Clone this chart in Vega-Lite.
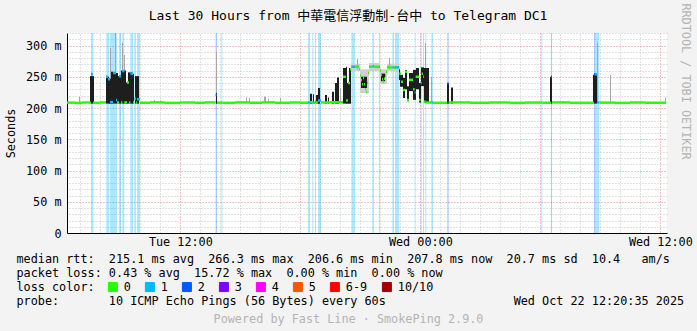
{
  "$schema": "https://vega.github.io/schema/vega-lite/v6.json",
  "width": 600,
  "height": 200,
  "autosize": "none",
  "padding": {"left": 67, "top": 33, "right": 30, "bottom": 98},
  "background": "#f3f3f3",
  "title": {
    "text": "Last 30 Hours from 中華電信浮動制-台中 to Telegram DC1",
    "font": "DejaVu Sans Mono, Noto Sans CJK TC",
    "fontSize": 13,
    "fontWeight": "normal",
    "color": "#000000",
    "frame": "group",
    "anchor": "middle",
    "dx": -19,
    "dy": 43,
    "offset": 13,
    "baseline": "alphabetic"
  },
  "config": {
    "view": {"fill": "#ffffff", "stroke": null},
    "font": "DejaVu Sans Mono",
    "axis": {
      "labelFont": "DejaVu Sans Mono",
      "titleFont": "DejaVu Sans Mono",
      "labelFontSize": 11.8,
      "titleFontSize": 11.8,
      "titleFontWeight": "normal",
      "labelColor": "#000000",
      "titleColor": "#000000"
    }
  },
  "datasets": {
    "bands": [
      {"start": "2025-10-21 07:32", "end": "2025-10-21 07:39", "loss": "1"},
      {"start": "2025-10-21 08:18", "end": "2025-10-21 08:27", "loss": "1"},
      {"start": "2025-10-21 08:29", "end": "2025-10-21 08:50", "loss": "1"},
      {"start": "2025-10-21 08:56", "end": "2025-10-21 09:02", "loss": "1"},
      {"start": "2025-10-21 09:06", "end": "2025-10-21 09:12", "loss": "1"},
      {"start": "2025-10-21 09:30", "end": "2025-10-21 09:38", "loss": "1"},
      {"start": "2025-10-21 09:42", "end": "2025-10-21 09:47", "loss": "1"},
      {"start": "2025-10-21 09:50", "end": "2025-10-21 09:59", "loss": "1"},
      {"start": "2025-10-21 13:46", "end": "2025-10-21 13:50", "loss": "2"},
      {"start": "2025-10-21 14:03", "end": "2025-10-21 14:06", "loss": "1"},
      {"start": "2025-10-21 18:23", "end": "2025-10-21 18:29", "loss": "1"},
      {"start": "2025-10-21 18:36", "end": "2025-10-21 18:39", "loss": "1"},
      {"start": "2025-10-21 18:44", "end": "2025-10-21 18:47", "loss": "1"},
      {"start": "2025-10-21 18:53", "end": "2025-10-21 19:02", "loss": "1"},
      {"start": "2025-10-21 20:33", "end": "2025-10-21 20:44", "loss": "1"},
      {"start": "2025-10-21 21:36", "end": "2025-10-21 21:41", "loss": "1"},
      {"start": "2025-10-21 21:56", "end": "2025-10-21 21:59", "loss": "1"},
      {"start": "2025-10-21 22:36", "end": "2025-10-21 22:41", "loss": "1"},
      {"start": "2025-10-21 22:44", "end": "2025-10-21 22:57", "loss": "1"},
      {"start": "2025-10-21 23:43", "end": "2025-10-21 23:46", "loss": "1"},
      {"start": "2025-10-22 00:01", "end": "2025-10-22 00:04", "loss": "1"},
      {"start": "2025-10-22 00:08", "end": "2025-10-22 00:11", "loss": "1"},
      {"start": "2025-10-22 00:15", "end": "2025-10-22 00:18", "loss": "1"},
      {"start": "2025-10-22 00:33", "end": "2025-10-22 00:38", "loss": "1"},
      {"start": "2025-10-22 01:21", "end": "2025-10-22 01:25", "loss": "2"},
      {"start": "2025-10-22 06:03", "end": "2025-10-22 06:06", "loss": "1"},
      {"start": "2025-10-22 06:32", "end": "2025-10-22 06:35", "loss": "2"},
      {"start": "2025-10-22 08:41", "end": "2025-10-22 08:44", "loss": "2"},
      {"start": "2025-10-22 08:44", "end": "2025-10-22 08:57", "loss": "1"}
    ],
    "smoke": [
      {"start": "2025-10-21 20:32", "end": "2025-10-21 20:59", "low": 259, "high": 271, "kind": "sparse"},
      {"start": "2025-10-21 20:59", "end": "2025-10-21 21:26", "low": 224, "high": 262, "kind": "sparse"},
      {"start": "2025-10-21 21:26", "end": "2025-10-21 21:59", "low": 259, "high": 272, "kind": "sparse"},
      {"start": "2025-10-21 21:59", "end": "2025-10-21 22:20", "low": 238, "high": 262, "kind": "sparse"},
      {"start": "2025-10-21 22:20", "end": "2025-10-21 22:56", "low": 259, "high": 271, "kind": "sparse"},
      {"start": "2025-10-21 06:56", "end": "2025-10-21 06:59", "low": 209, "high": 218, "kind": "outlier"},
      {"start": "2025-10-21 07:32", "end": "2025-10-21 07:35", "low": 251, "high": 258, "kind": "outlier"},
      {"start": "2025-10-21 08:29", "end": "2025-10-21 08:32", "low": 247, "high": 296, "kind": "outlier"},
      {"start": "2025-10-21 08:44", "end": "2025-10-21 08:47", "low": 256, "high": 330, "kind": "outlier"},
      {"start": "2025-10-21 09:05", "end": "2025-10-21 09:08", "low": 260, "high": 305, "kind": "outlier"},
      {"start": "2025-10-21 09:11", "end": "2025-10-21 09:14", "low": 260, "high": 285, "kind": "outlier"},
      {"start": "2025-10-21 10:41", "end": "2025-10-21 10:44", "low": 209, "high": 213, "kind": "outlier"},
      {"start": "2025-10-21 10:59", "end": "2025-10-21 11:02", "low": 209, "high": 212, "kind": "outlier"},
      {"start": "2025-10-21 13:47", "end": "2025-10-21 13:50", "low": 224, "high": 290, "kind": "outlier"},
      {"start": "2025-10-21 15:17", "end": "2025-10-21 15:20", "low": 209, "high": 217, "kind": "outlier"},
      {"start": "2025-10-21 15:26", "end": "2025-10-21 15:29", "low": 209, "high": 216, "kind": "outlier"},
      {"start": "2025-10-21 16:11", "end": "2025-10-21 16:17", "low": 209, "high": 218, "kind": "outlier"},
      {"start": "2025-10-21 16:23", "end": "2025-10-21 16:26", "low": 209, "high": 215, "kind": "outlier"},
      {"start": "2025-10-21 16:59", "end": "2025-10-21 17:02", "low": 209, "high": 216, "kind": "outlier"},
      {"start": "2025-10-21 19:59", "end": "2025-10-21 20:02", "low": 209, "high": 232, "kind": "outlier"},
      {"start": "2025-10-21 20:50", "end": "2025-10-21 20:53", "low": 262, "high": 278, "kind": "outlier"},
      {"start": "2025-10-21 22:26", "end": "2025-10-21 22:29", "low": 262, "high": 280, "kind": "outlier"},
      {"start": "2025-10-22 00:14", "end": "2025-10-22 00:17", "low": 264, "high": 304, "kind": "outlier"},
      {"start": "2025-10-22 00:32", "end": "2025-10-22 00:35", "low": 209, "high": 250, "kind": "outlier"},
      {"start": "2025-10-22 08:50", "end": "2025-10-22 08:53", "low": 209, "high": 305, "kind": "outlier"},
      {"start": "2025-10-22 09:29", "end": "2025-10-22 09:32", "low": 209, "high": 253, "kind": "outlier"},
      {"start": "2025-10-22 12:14", "end": "2025-10-22 12:17", "low": 209, "high": 217, "kind": "outlier"},
      {"start": "2025-10-21 07:29", "end": "2025-10-21 07:41", "low": 207, "high": 251, "kind": "core"},
      {"start": "2025-10-21 08:17", "end": "2025-10-21 08:26", "low": 207, "high": 250, "kind": "core"},
      {"start": "2025-10-21 08:26", "end": "2025-10-21 08:32", "low": 207, "high": 247, "kind": "core"},
      {"start": "2025-10-21 08:32", "end": "2025-10-21 08:38", "low": 207, "high": 258, "kind": "core"},
      {"start": "2025-10-21 08:38", "end": "2025-10-21 08:53", "low": 207, "high": 256, "kind": "core"},
      {"start": "2025-10-21 08:53", "end": "2025-10-21 09:02", "low": 207, "high": 251, "kind": "core"},
      {"start": "2025-10-21 09:02", "end": "2025-10-21 09:17", "low": 207, "high": 260, "kind": "core"},
      {"start": "2025-10-21 09:17", "end": "2025-10-21 09:23", "low": 207, "high": 241, "kind": "core"},
      {"start": "2025-10-21 09:23", "end": "2025-10-21 09:35", "low": 207, "high": 257, "kind": "core"},
      {"start": "2025-10-21 09:35", "end": "2025-10-21 09:41", "low": 207, "high": 255, "kind": "core"},
      {"start": "2025-10-21 09:44", "end": "2025-10-21 09:56", "low": 207, "high": 251, "kind": "core"},
      {"start": "2025-10-21 13:47", "end": "2025-10-21 13:50", "low": 207, "high": 224, "kind": "core"},
      {"start": "2025-10-21 18:29", "end": "2025-10-21 18:35", "low": 207, "high": 223, "kind": "core"},
      {"start": "2025-10-21 18:38", "end": "2025-10-21 18:41", "low": 207, "high": 222, "kind": "core"},
      {"start": "2025-10-21 18:47", "end": "2025-10-21 18:53", "low": 207, "high": 221, "kind": "core"},
      {"start": "2025-10-21 18:53", "end": "2025-10-21 18:59", "low": 207, "high": 232, "kind": "core"},
      {"start": "2025-10-21 19:14", "end": "2025-10-21 19:20", "low": 207, "high": 221, "kind": "core"},
      {"start": "2025-10-21 19:23", "end": "2025-10-21 19:26", "low": 207, "high": 217, "kind": "core"},
      {"start": "2025-10-21 19:35", "end": "2025-10-21 19:41", "low": 207, "high": 226, "kind": "core"},
      {"start": "2025-10-21 19:44", "end": "2025-10-21 19:50", "low": 207, "high": 240, "kind": "core"},
      {"start": "2025-10-21 19:50", "end": "2025-10-21 19:56", "low": 207, "high": 249, "kind": "core"},
      {"start": "2025-10-21 20:08", "end": "2025-10-21 20:17", "low": 207, "high": 264, "kind": "core"},
      {"start": "2025-10-21 20:17", "end": "2025-10-21 20:20", "low": 207, "high": 266, "kind": "core"},
      {"start": "2025-10-21 20:20", "end": "2025-10-21 20:26", "low": 207, "high": 240, "kind": "core"},
      {"start": "2025-10-21 20:26", "end": "2025-10-21 20:32", "low": 207, "high": 264, "kind": "core"},
      {"start": "2025-10-21 21:02", "end": "2025-10-21 21:20", "low": 232, "high": 250, "kind": "core"},
      {"start": "2025-10-21 22:02", "end": "2025-10-21 22:14", "low": 243, "high": 255, "kind": "core"},
      {"start": "2025-10-21 22:56", "end": "2025-10-21 22:59", "low": 245, "high": 262, "kind": "core"},
      {"start": "2025-10-21 22:59", "end": "2025-10-21 23:08", "low": 234, "high": 253, "kind": "core"},
      {"start": "2025-10-21 23:08", "end": "2025-10-21 23:14", "low": 216, "high": 248, "kind": "core"},
      {"start": "2025-10-21 23:14", "end": "2025-10-21 23:20", "low": 230, "high": 261, "kind": "core"},
      {"start": "2025-10-21 23:20", "end": "2025-10-21 23:26", "low": 211, "high": 235, "kind": "core"},
      {"start": "2025-10-21 23:26", "end": "2025-10-21 23:38", "low": 227, "high": 256, "kind": "core"},
      {"start": "2025-10-21 23:38", "end": "2025-10-21 23:47", "low": 213, "high": 261, "kind": "core"},
      {"start": "2025-10-21 23:47", "end": "2025-10-21 23:56", "low": 230, "high": 264, "kind": "core"},
      {"start": "2025-10-21 23:56", "end": "2025-10-22 00:02", "low": 209, "high": 240, "kind": "core"},
      {"start": "2025-10-22 00:02", "end": "2025-10-22 00:11", "low": 235, "high": 265, "kind": "core"},
      {"start": "2025-10-22 00:11", "end": "2025-10-22 00:26", "low": 209, "high": 264, "kind": "core"},
      {"start": "2025-10-22 01:20", "end": "2025-10-22 01:26", "low": 207, "high": 240, "kind": "core"},
      {"start": "2025-10-22 01:32", "end": "2025-10-22 01:38", "low": 207, "high": 233, "kind": "core"},
      {"start": "2025-10-22 06:29", "end": "2025-10-22 06:35", "low": 207, "high": 250, "kind": "core"},
      {"start": "2025-10-22 08:38", "end": "2025-10-22 08:50", "low": 207, "high": 253, "kind": "core"}
    ],
    "median": [
      {"start": "2025-10-21 06:20", "end": "2025-10-21 06:44", "rtt": 208.6, "loss": "0"},
      {"start": "2025-10-21 06:44", "end": "2025-10-21 07:05", "rtt": 208.1, "loss": "0"},
      {"start": "2025-10-21 07:05", "end": "2025-10-21 07:29", "rtt": 208.8, "loss": "0"},
      {"start": "2025-10-21 07:29", "end": "2025-10-21 07:32", "rtt": 208.4, "loss": "0"},
      {"start": "2025-10-21 07:32", "end": "2025-10-21 07:38", "rtt": 254, "loss": "1"},
      {"start": "2025-10-21 07:38", "end": "2025-10-21 07:59", "rtt": 208.3, "loss": "0"},
      {"start": "2025-10-21 07:59", "end": "2025-10-21 08:17", "rtt": 208.9, "loss": "0"},
      {"start": "2025-10-21 08:17", "end": "2025-10-21 08:23", "rtt": 250, "loss": "1"},
      {"start": "2025-10-21 08:23", "end": "2025-10-21 08:29", "rtt": 246, "loss": "1"},
      {"start": "2025-10-21 08:29", "end": "2025-10-21 08:38", "rtt": 209.5, "loss": "1"},
      {"start": "2025-10-21 08:38", "end": "2025-10-21 08:47", "rtt": 256, "loss": "1"},
      {"start": "2025-10-21 08:47", "end": "2025-10-21 08:50", "rtt": 213, "loss": "1"},
      {"start": "2025-10-21 08:50", "end": "2025-10-21 08:56", "rtt": 209, "loss": "0"},
      {"start": "2025-10-21 08:56", "end": "2025-10-21 09:02", "rtt": 251, "loss": "1"},
      {"start": "2025-10-21 09:02", "end": "2025-10-21 09:06", "rtt": 209, "loss": "0"},
      {"start": "2025-10-21 09:06", "end": "2025-10-21 09:12", "rtt": 259, "loss": "1"},
      {"start": "2025-10-21 09:12", "end": "2025-10-21 09:20", "rtt": 209, "loss": "0"},
      {"start": "2025-10-21 09:20", "end": "2025-10-21 09:26", "rtt": 241, "loss": "0"},
      {"start": "2025-10-21 09:26", "end": "2025-10-21 09:30", "rtt": 209, "loss": "0"},
      {"start": "2025-10-21 09:30", "end": "2025-10-21 09:38", "rtt": 255, "loss": "1"},
      {"start": "2025-10-21 09:38", "end": "2025-10-21 09:42", "rtt": 209, "loss": "0"},
      {"start": "2025-10-21 09:42", "end": "2025-10-21 09:47", "rtt": 215, "loss": "1"},
      {"start": "2025-10-21 09:47", "end": "2025-10-21 09:50", "rtt": 209, "loss": "0"},
      {"start": "2025-10-21 09:50", "end": "2025-10-21 09:59", "rtt": 214, "loss": "1"},
      {"start": "2025-10-21 09:59", "end": "2025-10-21 10:29", "rtt": 208.4, "loss": "0"},
      {"start": "2025-10-21 10:29", "end": "2025-10-21 11:14", "rtt": 208.9, "loss": "0"},
      {"start": "2025-10-21 11:14", "end": "2025-10-21 11:59", "rtt": 208.2, "loss": "0"},
      {"start": "2025-10-21 11:59", "end": "2025-10-21 12:44", "rtt": 208.8, "loss": "0"},
      {"start": "2025-10-21 12:44", "end": "2025-10-21 13:14", "rtt": 208.3, "loss": "0"},
      {"start": "2025-10-21 13:14", "end": "2025-10-21 13:46", "rtt": 208.9, "loss": "0"},
      {"start": "2025-10-21 13:46", "end": "2025-10-21 13:50", "rtt": 221, "loss": "2"},
      {"start": "2025-10-21 13:50", "end": "2025-10-21 14:03", "rtt": 208.5, "loss": "0"},
      {"start": "2025-10-21 14:03", "end": "2025-10-21 14:06", "rtt": 209, "loss": "1"},
      {"start": "2025-10-21 14:06", "end": "2025-10-21 14:44", "rtt": 208.2, "loss": "0"},
      {"start": "2025-10-21 14:44", "end": "2025-10-21 15:29", "rtt": 208.9, "loss": "0"},
      {"start": "2025-10-21 15:29", "end": "2025-10-21 16:05", "rtt": 208.4, "loss": "0"},
      {"start": "2025-10-21 16:05", "end": "2025-10-21 16:44", "rtt": 209.0, "loss": "0"},
      {"start": "2025-10-21 16:44", "end": "2025-10-21 17:29", "rtt": 208.3, "loss": "0"},
      {"start": "2025-10-21 17:29", "end": "2025-10-21 17:59", "rtt": 208.8, "loss": "0"},
      {"start": "2025-10-21 17:59", "end": "2025-10-21 18:23", "rtt": 208.4, "loss": "0"},
      {"start": "2025-10-21 18:23", "end": "2025-10-21 18:29", "rtt": 209, "loss": "1"},
      {"start": "2025-10-21 18:29", "end": "2025-10-21 18:36", "rtt": 209.2, "loss": "0"},
      {"start": "2025-10-21 18:36", "end": "2025-10-21 18:39", "rtt": 209, "loss": "1"},
      {"start": "2025-10-21 18:39", "end": "2025-10-21 18:44", "rtt": 208.6, "loss": "0"},
      {"start": "2025-10-21 18:44", "end": "2025-10-21 18:47", "rtt": 210, "loss": "1"},
      {"start": "2025-10-21 18:47", "end": "2025-10-21 18:53", "rtt": 209, "loss": "0"},
      {"start": "2025-10-21 18:53", "end": "2025-10-21 19:02", "rtt": 212, "loss": "1"},
      {"start": "2025-10-21 19:02", "end": "2025-10-21 19:29", "rtt": 208.8, "loss": "0"},
      {"start": "2025-10-21 19:29", "end": "2025-10-21 20:08", "rtt": 209.2, "loss": "0"},
      {"start": "2025-10-21 20:08", "end": "2025-10-21 20:17", "rtt": 250, "loss": "0"},
      {"start": "2025-10-21 20:17", "end": "2025-10-21 20:23", "rtt": 212, "loss": "0"},
      {"start": "2025-10-21 20:23", "end": "2025-10-21 20:29", "rtt": 240, "loss": "0"},
      {"start": "2025-10-21 20:29", "end": "2025-10-21 20:33", "rtt": 262, "loss": "0"},
      {"start": "2025-10-21 20:33", "end": "2025-10-21 20:44", "rtt": 266, "loss": "1"},
      {"start": "2025-10-21 20:44", "end": "2025-10-21 20:56", "rtt": 266, "loss": "0"},
      {"start": "2025-10-21 20:56", "end": "2025-10-21 20:59", "rtt": 262, "loss": "0"},
      {"start": "2025-10-21 20:59", "end": "2025-10-21 21:02", "rtt": 252, "loss": "0"},
      {"start": "2025-10-21 21:02", "end": "2025-10-21 21:05", "rtt": 245, "loss": "0"},
      {"start": "2025-10-21 21:05", "end": "2025-10-21 21:08", "rtt": 238, "loss": "0"},
      {"start": "2025-10-21 21:08", "end": "2025-10-21 21:11", "rtt": 248, "loss": "0"},
      {"start": "2025-10-21 21:11", "end": "2025-10-21 21:14", "rtt": 238, "loss": "0"},
      {"start": "2025-10-21 21:14", "end": "2025-10-21 21:17", "rtt": 230, "loss": "0"},
      {"start": "2025-10-21 21:17", "end": "2025-10-21 21:20", "rtt": 226, "loss": "0"},
      {"start": "2025-10-21 21:20", "end": "2025-10-21 21:23", "rtt": 240, "loss": "0"},
      {"start": "2025-10-21 21:23", "end": "2025-10-21 21:26", "rtt": 256, "loss": "0"},
      {"start": "2025-10-21 21:26", "end": "2025-10-21 21:36", "rtt": 266, "loss": "0"},
      {"start": "2025-10-21 21:36", "end": "2025-10-21 21:41", "rtt": 267, "loss": "1"},
      {"start": "2025-10-21 21:41", "end": "2025-10-21 21:56", "rtt": 266, "loss": "0"},
      {"start": "2025-10-21 21:56", "end": "2025-10-21 21:59", "rtt": 266, "loss": "1"},
      {"start": "2025-10-21 21:59", "end": "2025-10-21 22:02", "rtt": 260, "loss": "0"},
      {"start": "2025-10-21 22:02", "end": "2025-10-21 22:05", "rtt": 253, "loss": "0"},
      {"start": "2025-10-21 22:05", "end": "2025-10-21 22:08", "rtt": 246, "loss": "0"},
      {"start": "2025-10-21 22:08", "end": "2025-10-21 22:11", "rtt": 242, "loss": "0"},
      {"start": "2025-10-21 22:11", "end": "2025-10-21 22:14", "rtt": 247, "loss": "0"},
      {"start": "2025-10-21 22:14", "end": "2025-10-21 22:17", "rtt": 252, "loss": "0"},
      {"start": "2025-10-21 22:17", "end": "2025-10-21 22:20", "rtt": 258, "loss": "0"},
      {"start": "2025-10-21 22:20", "end": "2025-10-21 22:36", "rtt": 265, "loss": "0"},
      {"start": "2025-10-21 22:36", "end": "2025-10-21 22:41", "rtt": 265, "loss": "1"},
      {"start": "2025-10-21 22:41", "end": "2025-10-21 22:44", "rtt": 265, "loss": "0"},
      {"start": "2025-10-21 22:44", "end": "2025-10-21 22:57", "rtt": 265, "loss": "1"},
      {"start": "2025-10-21 22:57", "end": "2025-10-21 23:02", "rtt": 255, "loss": "0"},
      {"start": "2025-10-21 23:02", "end": "2025-10-21 23:08", "rtt": 242, "loss": "0"},
      {"start": "2025-10-21 23:08", "end": "2025-10-21 23:14", "rtt": 229, "loss": "0"},
      {"start": "2025-10-21 23:14", "end": "2025-10-21 23:20", "rtt": 258, "loss": "0"},
      {"start": "2025-10-21 23:20", "end": "2025-10-21 23:26", "rtt": 213, "loss": "0"},
      {"start": "2025-10-21 23:26", "end": "2025-10-21 23:38", "rtt": 245, "loss": "0"},
      {"start": "2025-10-21 23:38", "end": "2025-10-21 23:43", "rtt": 230, "loss": "0"},
      {"start": "2025-10-21 23:43", "end": "2025-10-21 23:46", "rtt": 225, "loss": "1"},
      {"start": "2025-10-21 23:46", "end": "2025-10-21 23:56", "rtt": 250, "loss": "0"},
      {"start": "2025-10-21 23:56", "end": "2025-10-22 00:01", "rtt": 213, "loss": "0"},
      {"start": "2025-10-22 00:01", "end": "2025-10-22 00:04", "rtt": 240, "loss": "1"},
      {"start": "2025-10-22 00:04", "end": "2025-10-22 00:08", "rtt": 255, "loss": "0"},
      {"start": "2025-10-22 00:08", "end": "2025-10-22 00:11", "rtt": 250, "loss": "1"},
      {"start": "2025-10-22 00:11", "end": "2025-10-22 00:15", "rtt": 210, "loss": "0"},
      {"start": "2025-10-22 00:15", "end": "2025-10-22 00:18", "rtt": 210, "loss": "1"},
      {"start": "2025-10-22 00:18", "end": "2025-10-22 00:33", "rtt": 208.8, "loss": "0"},
      {"start": "2025-10-22 00:33", "end": "2025-10-22 00:38", "rtt": 209, "loss": "1"},
      {"start": "2025-10-22 00:38", "end": "2025-10-22 01:21", "rtt": 208.3, "loss": "0"},
      {"start": "2025-10-22 01:21", "end": "2025-10-22 01:25", "rtt": 239, "loss": "2"},
      {"start": "2025-10-22 01:25", "end": "2025-10-22 02:29", "rtt": 208.9, "loss": "0"},
      {"start": "2025-10-22 02:29", "end": "2025-10-22 03:29", "rtt": 208.4, "loss": "0"},
      {"start": "2025-10-22 03:29", "end": "2025-10-22 04:29", "rtt": 208.8, "loss": "0"},
      {"start": "2025-10-22 04:29", "end": "2025-10-22 05:14", "rtt": 208.2, "loss": "0"},
      {"start": "2025-10-22 05:14", "end": "2025-10-22 06:03", "rtt": 208.7, "loss": "0"},
      {"start": "2025-10-22 06:03", "end": "2025-10-22 06:06", "rtt": 209, "loss": "1"},
      {"start": "2025-10-22 06:06", "end": "2025-10-22 06:32", "rtt": 208.4, "loss": "0"},
      {"start": "2025-10-22 06:32", "end": "2025-10-22 06:35", "rtt": 250, "loss": "2"},
      {"start": "2025-10-22 06:35", "end": "2025-10-22 07:29", "rtt": 208.9, "loss": "0"},
      {"start": "2025-10-22 07:29", "end": "2025-10-22 08:41", "rtt": 208.3, "loss": "0"},
      {"start": "2025-10-22 08:41", "end": "2025-10-22 08:44", "rtt": 254, "loss": "2"},
      {"start": "2025-10-22 08:44", "end": "2025-10-22 08:50", "rtt": 254, "loss": "1"},
      {"start": "2025-10-22 08:50", "end": "2025-10-22 08:57", "rtt": 209, "loss": "1"},
      {"start": "2025-10-22 08:57", "end": "2025-10-22 09:44", "rtt": 208.6, "loss": "0"},
      {"start": "2025-10-22 09:44", "end": "2025-10-22 10:29", "rtt": 208.2, "loss": "0"},
      {"start": "2025-10-22 10:29", "end": "2025-10-22 11:14", "rtt": 208.8, "loss": "0"},
      {"start": "2025-10-22 11:14", "end": "2025-10-22 12:17", "rtt": 208.4, "loss": "0"}
    ]
  },
  "layer": [
    {
      "data": {"name": "bands"},
      "mark": {"type": "rect", "fillOpacity": 0.33},
      "encoding": {
        "x": {
          "field": "start",
          "type": "temporal",
          "scale": {
            "domain": [
              {"year": 2025, "month": 10, "date": 21, "hours": 6, "minutes": 20},
              {"year": 2025, "month": 10, "date": 22, "hours": 12, "minutes": 20}
            ],
            "nice": false
          },
          "axis": {
            "orient": "bottom",
            "values": [
              {"year": 2025, "month": 10, "date": 21, "hours": 7},
              {"year": 2025, "month": 10, "date": 21, "hours": 8},
              {"year": 2025, "month": 10, "date": 21, "hours": 9},
              {"year": 2025, "month": 10, "date": 21, "hours": 10},
              {"year": 2025, "month": 10, "date": 21, "hours": 11},
              {"year": 2025, "month": 10, "date": 21, "hours": 13},
              {"year": 2025, "month": 10, "date": 21, "hours": 14},
              {"year": 2025, "month": 10, "date": 21, "hours": 15},
              {"year": 2025, "month": 10, "date": 21, "hours": 16},
              {"year": 2025, "month": 10, "date": 21, "hours": 17},
              {"year": 2025, "month": 10, "date": 21, "hours": 19},
              {"year": 2025, "month": 10, "date": 21, "hours": 20},
              {"year": 2025, "month": 10, "date": 21, "hours": 21},
              {"year": 2025, "month": 10, "date": 21, "hours": 22},
              {"year": 2025, "month": 10, "date": 21, "hours": 23},
              {"year": 2025, "month": 10, "date": 22, "hours": 1},
              {"year": 2025, "month": 10, "date": 22, "hours": 2},
              {"year": 2025, "month": 10, "date": 22, "hours": 3},
              {"year": 2025, "month": 10, "date": 22, "hours": 4},
              {"year": 2025, "month": 10, "date": 22, "hours": 5},
              {"year": 2025, "month": 10, "date": 22, "hours": 7},
              {"year": 2025, "month": 10, "date": 22, "hours": 8},
              {"year": 2025, "month": 10, "date": 22, "hours": 9},
              {"year": 2025, "month": 10, "date": 22, "hours": 10},
              {"year": 2025, "month": 10, "date": 22, "hours": 11}
            ],
            "grid": true,
            "gridColor": "#c4c4c4",
            "gridDash": [1, 2],
            "labels": false,
            "ticks": false,
            "domain": false,
            "title": "Powered by Fast Line · SmokePing 2.9.0",
            "titleColor": "#b4b4b4",
            "titleX": 281,
            "titleY": 85,
            "titleAlign": "center",
            "titleBaseline": "middle",
            "titleLimit": 1000
          }
        },
        "x2": {"field": "end"},
        "color": {
          "field": "loss",
          "type": "nominal",
          "scale": {
            "domain": ["0", "1", "2", "3", "4", "5", "6-9", "10/10"],
            "range": ["#26ff00", "#00b8ff", "#0059ff", "#7e00ff", "#ff00ff", "#ff5500", "#ff0000", "#a10000"]
          },
          "legend": {
            "orient": "none",
            "legendX": 40,
            "legendY": 248,
            "direction": "horizontal",
            "columns": 8,
            "title": null,
            "labelFont": "DejaVu Sans Mono",
            "labelFontSize": 11.8,
            "labelColor": "#000000",
            "labelOffset": 5,
            "columnPadding": 12,
            "symbolType": "square",
            "symbolSize": 81,
            "symbolStrokeColor": "#000000",
            "symbolStrokeWidth": 1
          }
        }
      }
    },
    {
      "data": {"name": "smoke"},
      "mark": {"type": "rect", "clip": true},
      "encoding": {
        "x": {
          "field": "start",
          "type": "temporal",
          "scale": {
            "domain": [
              {"year": 2025, "month": 10, "date": 21, "hours": 6, "minutes": 20},
              {"year": 2025, "month": 10, "date": 22, "hours": 12, "minutes": 20}
            ],
            "nice": false
          },
          "axis": null
        },
        "x2": {"field": "end"},
        "y": {
          "field": "low",
          "type": "quantitative",
          "scale": {"domain": [0, 320], "nice": false},
          "axis": {
            "orient": "right",
            "values": [10, 20, 30, 40, 60, 70, 80, 90, 110, 120, 130, 140, 160, 170, 180, 190, 210, 220, 230, 240, 260, 270, 280, 290, 310, 320],
            "grid": true,
            "gridColor": "#c4c4c4",
            "gridDash": [1, 2],
            "labels": false,
            "ticks": false,
            "domain": false,
            "title": "RRDTOOL / TOBI OETIKER",
            "titleColor": "#b4b4b4",
            "titleAngle": 90,
            "titleX": 18,
            "titleY": 48,
            "titleAlign": "center",
            "titleBaseline": "middle",
            "titleLimit": 1000
          }
        },
        "y2": {"field": "high"},
        "color": {
          "condition": [
            {"test": "datum.kind == 'core'", "value": "#1e1e1e"},
            {"test": "datum.kind == 'sparse'", "value": "#cfcfcf"}
          ],
          "value": "#a8a8a8"
        }
      }
    },
    {
      "data": {"name": "median"},
      "mark": {"type": "rule", "strokeWidth": 2.5, "strokeCap": "butt"},
      "encoding": {
        "x": {
          "field": "start",
          "type": "temporal",
          "scale": {
            "domain": [
              {"year": 2025, "month": 10, "date": 21, "hours": 6, "minutes": 20},
              {"year": 2025, "month": 10, "date": 22, "hours": 12, "minutes": 20}
            ],
            "nice": false
          },
          "axis": {
            "orient": "bottom",
            "values": [
              {"year": 2025, "month": 10, "date": 21, "hours": 12},
              {"year": 2025, "month": 10, "date": 21, "hours": 18},
              {"year": 2025, "month": 10, "date": 22, "hours": 0},
              {"year": 2025, "month": 10, "date": 22, "hours": 6},
              {"year": 2025, "month": 10, "date": 22, "hours": 12}
            ],
            "grid": true,
            "gridColor": "#e08888",
            "gridDash": [1, 2],
            "ticks": false,
            "domain": true,
            "domainColor": "#000000",
            "labelExpr": "hours(datum.value) % 12 == 0 ? timeFormat(datum.value, '%a %H:%M') : ''",
            "labelPadding": 3,
            "labelOverlap": false,
            "labelFlush": false,
            "labelBaseline": "top",
            "title": [
              "median rtt:\u00a0\u00a0215.1 ms avg\u00a0\u00a0266.3 ms max\u00a0\u00a0206.6 ms min\u00a0\u00a0207.8 ms now\u00a0\u00a020.7 ms sd\u00a0\u00a010.4\u00a0\u00a0\u00a0am/s",
              "packet loss: 0.43 % avg\u00a0\u00a015.72 % max\u00a0\u00a00.00 % min\u00a0\u00a00.00 % now",
              "loss color:",
              "probe:\u00a0\u00a0\u00a0\u00a0\u00a0\u00a0\u00a010 ICMP Echo Pings (56 Bytes) every 60s\u00a0\u00a0\u00a0\u00a0\u00a0\u00a0\u00a0\u00a0\u00a0\u00a0\u00a0\u00a0\u00a0\u00a0\u00a0\u00a0\u00a0\u00a0Wed Oct 22 12:20:35 2025"
            ],
            "titleX": -51,
            "titleY": 20,
            "titleAlign": "left",
            "titleBaseline": "top",
            "titleLineHeight": 14,
            "titleLimit": 1000
          }
        },
        "x2": {"field": "end"},
        "y": {
          "field": "rtt",
          "type": "quantitative",
          "scale": {"domain": [0, 320], "nice": false},
          "axis": {
            "orient": "left",
            "values": [0, 50, 100, 150, 200, 250, 300],
            "grid": true,
            "gridColor": "#e08888",
            "gridDash": [1, 2],
            "ticks": false,
            "domain": true,
            "domainColor": "#000000",
            "labelExpr": "datum.value == 0 ? '0' : datum.value + ' m'",
            "labelPadding": 6,
            "title": "Seconds",
            "titleX": -57,
            "titleY": 100,
            "titleAngle": 270,
            "titleAlign": "center",
            "titleBaseline": "middle"
          }
        },
        "stroke": {
          "field": "loss",
          "type": "nominal",
          "scale": {
            "domain": ["0", "1", "2", "3", "4", "5", "6-9", "10/10"],
            "range": ["#26ff00", "#00b8ff", "#0059ff", "#7e00ff", "#ff00ff", "#ff5500", "#ff0000", "#a10000"]
          },
          "legend": null
        }
      }
    }
  ],
  "resolve": {"scale": {"x": "independent", "y": "independent"}}
}
